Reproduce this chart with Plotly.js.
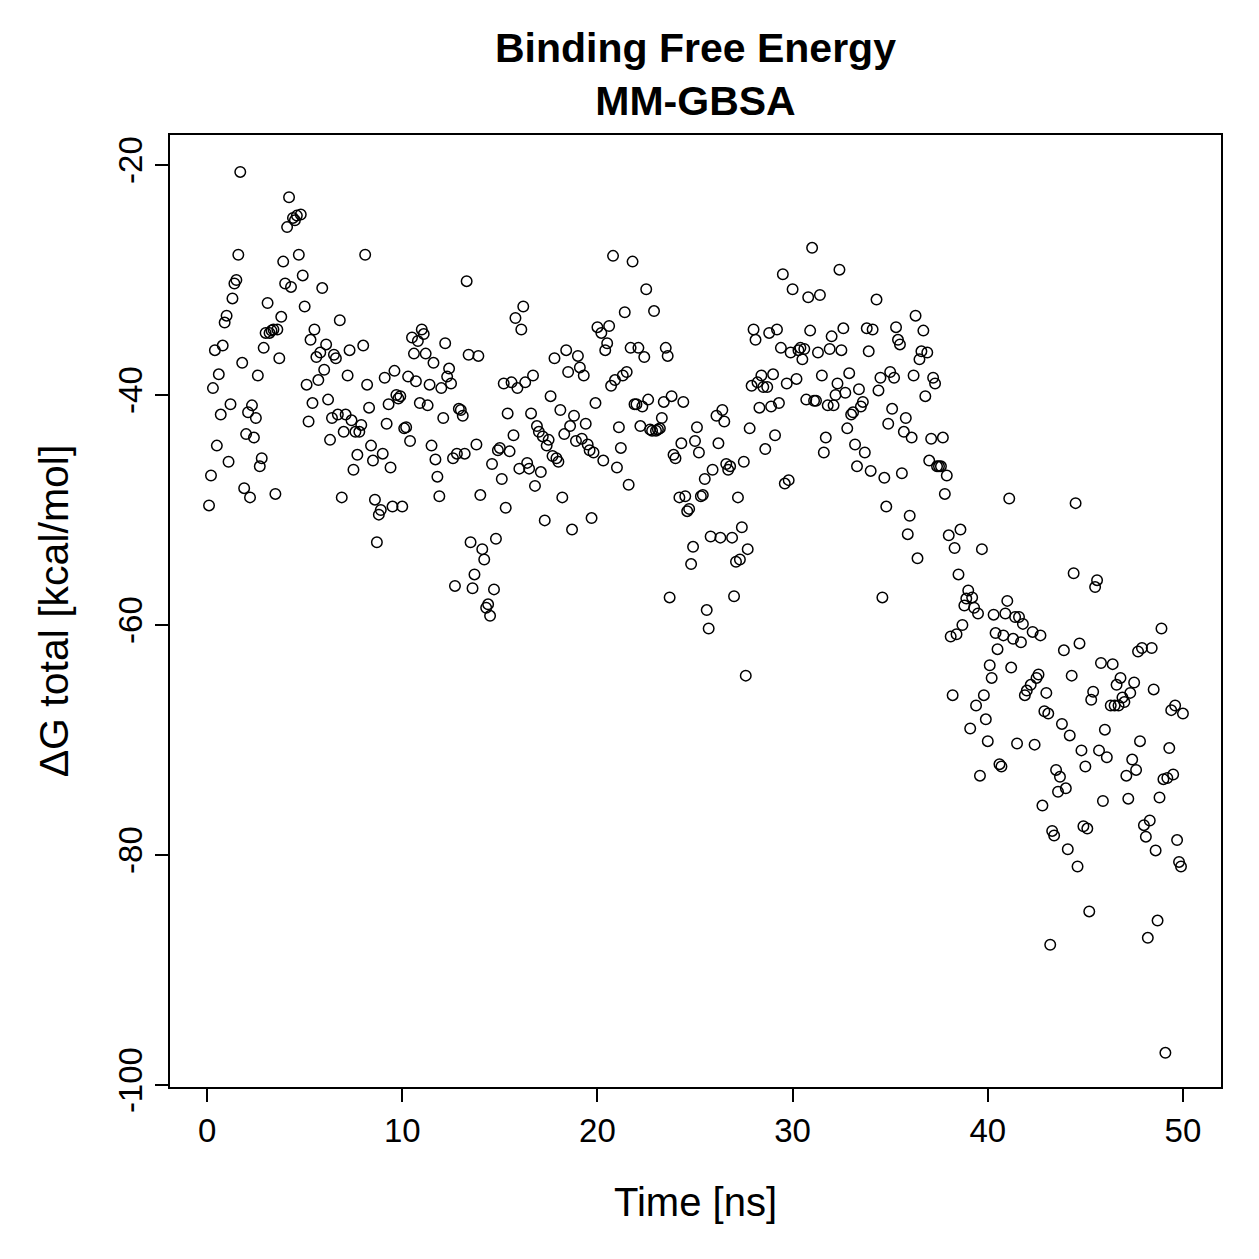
<!DOCTYPE html>
<html>
<head>
<meta charset="utf-8">
<script src="https://cdn.plot.ly/plotly-3.0.1.min.js"></script>
<style>
  html, body { margin: 0; padding: 0; background: #ffffff; }
  #chart { width: 1259px; height: 1259px; }
</style>
</head>
<body>
<div id="chart"></div>
<script>
// MM-GBSA binding free energy per frame along the trajectory
var timeNs = [
  0.1,0.2,0.3,0.4,0.5,0.6,0.7,0.8,0.9,1.0,1.1,1.2,1.3,1.4,1.5,1.6,1.7,1.8,1.9,2.0,
  2.1,2.2,2.3,2.4,2.5,2.6,2.7,2.8,2.9,3.0,3.1,3.2,3.3,3.4,3.5,3.6,3.7,3.8,3.9,4.0,
  4.1,4.2,4.3,4.4,4.5,4.6,4.7,4.8,4.9,5.0,5.1,5.2,5.3,5.4,5.5,5.6,5.7,5.8,5.9,6.0,
  6.1,6.2,6.3,6.4,6.5,6.6,6.7,6.8,6.9,7.0,7.1,7.2,7.3,7.4,7.5,7.6,7.7,7.8,7.9,8.0,
  8.1,8.2,8.3,8.4,8.5,8.6,8.7,8.8,8.9,9.0,9.1,9.2,9.3,9.4,9.5,9.6,9.7,9.8,9.9,10.0,
  10.1,10.2,10.3,10.4,10.5,10.6,10.7,10.8,10.9,11.0,11.1,11.2,11.3,11.4,11.5,11.6,11.7,11.8,11.9,12.0,
  12.1,12.2,12.3,12.4,12.5,12.6,12.7,12.8,12.9,13.0,13.1,13.2,13.3,13.4,13.5,13.6,13.7,13.8,13.9,14.0,
  14.1,14.2,14.3,14.4,14.5,14.6,14.7,14.8,14.9,15.0,15.1,15.2,15.3,15.4,15.5,15.6,15.7,15.8,15.9,16.0,
  16.1,16.2,16.3,16.4,16.5,16.6,16.7,16.8,16.9,17.0,17.1,17.2,17.3,17.4,17.5,17.6,17.7,17.8,17.9,18.0,
  18.1,18.2,18.3,18.4,18.5,18.6,18.7,18.8,18.9,19.0,19.1,19.2,19.3,19.4,19.5,19.6,19.7,19.8,19.9,20.0,
  20.2,20.3,20.4,20.5,20.6,20.7,20.8,20.9,21.0,21.1,21.2,21.3,21.4,21.5,21.6,21.7,21.8,21.9,22.0,
  22.1,22.2,22.3,22.4,22.5,22.6,22.7,22.8,22.9,23.0,23.1,23.2,23.3,23.4,23.5,23.6,23.7,23.8,23.9,24.0,
  24.2,24.3,24.4,24.5,24.6,24.7,24.8,24.9,25.0,25.1,25.2,25.3,25.4,25.5,25.6,25.7,25.8,25.9,
  26.1,26.2,26.3,26.4,26.5,26.6,26.7,26.8,26.9,27.0,27.1,27.2,27.3,27.4,27.5,27.6,27.7,27.8,27.9,28.0,
  28.1,28.2,28.3,28.4,28.5,28.6,28.7,28.8,28.9,29.0,29.1,29.2,29.3,29.4,29.5,29.6,29.7,29.8,29.9,30.0,
  30.2,30.3,30.4,30.5,30.6,30.7,30.8,30.9,31.0,31.1,31.2,31.3,31.4,31.5,31.6,31.7,31.8,31.9,32.0,32.1,
  32.2,32.3,32.4,32.5,32.6,32.7,32.8,32.9,33.0,33.1,33.2,33.3,33.4,33.5,33.6,33.7,33.8,33.9,34.0,34.1,
  34.3,34.4,34.5,34.6,34.7,34.8,34.9,35.0,35.1,35.2,35.3,35.4,35.5,35.6,35.7,35.8,35.9,36.0,36.1,36.2,
  36.3,36.4,36.5,36.6,36.7,36.8,36.9,37.0,37.1,37.2,37.3,37.4,37.5,37.6,37.7,37.8,37.9,38.0,
  38.1,38.2,38.3,38.4,38.5,38.6,38.7,38.8,38.9,39.0,39.1,39.2,39.3,39.4,39.5,39.6,39.7,39.8,39.9,40.0,
  40.1,40.2,40.3,40.4,40.5,40.6,40.7,40.8,40.9,41.0,41.1,41.2,41.3,41.4,41.5,41.6,41.7,41.8,41.9,42.0,
  42.2,42.3,42.4,42.5,42.6,42.7,42.8,42.9,43.0,43.1,43.2,43.3,43.4,43.5,43.6,43.7,43.8,43.9,44.0,44.1,
  44.2,44.3,44.4,44.5,44.6,44.7,44.8,44.9,45.0,45.1,45.2,45.3,45.4,45.5,45.6,45.7,45.8,45.9,46.0,46.1,
  46.3,46.4,46.5,46.6,46.7,46.8,46.9,47.0,47.1,47.2,47.3,47.4,47.5,47.6,47.7,47.8,47.9,48.0,48.1,48.2,
  48.3,48.4,48.5,48.6,48.7,48.8,48.9,49.0,49.1,49.2,49.3,49.4,49.5,49.6,49.7,49.8,49.9,50.0
];

var deltaGTotal = [
  -49.6,-47.0,-39.4,-36.1,-44.4,-38.2,-41.7,-35.7,-33.7,-33.1,-45.8,-40.8,-31.6,-30.3,-30.0,-27.8,-20.6,-37.2,-48.1,-43.4,
  -41.5,-48.9,-40.9,-43.7,-42.0,-38.3,-46.2,-45.5,-35.9,-34.6,-32.0,-34.6,-34.4,-34.3,-48.6,-34.3,-36.8,-33.2,-28.4,-30.3,
  -25.4,-22.8,-30.6,-24.6,-24.8,-24.4,-27.8,-24.3,-29.6,-32.3,-39.1,-42.3,-35.2,-40.7,-34.3,-36.7,-38.7,-36.3,-30.7,-37.8,
  -35.6,-40.4,-43.9,-42.0,-36.5,-36.8,-41.7,-33.5,-48.9,-43.2,-41.7,-38.3,-36.1,-42.2,-46.5,-43.2,-45.2,-43.2,-42.6,-35.7,
  -27.8,-39.1,-41.1,-44.4,-45.7,-49.1,-52.8,-50.4,-50.0,-45.1,-38.5,-42.5,-40.8,-46.3,-49.7,-37.9,-40.0,-40.3,-40.1,-49.7,
  -42.9,-42.8,-38.4,-44.0,-35.0,-36.4,-38.8,-35.3,-40.7,-34.3,-34.7,-36.4,-40.9,-39.1,-44.4,-37.2,-45.6,-47.1,-48.8,-39.4,
  -42.0,-35.5,-38.4,-37.7,-39.0,-45.5,-56.6,-45.1,-41.2,-41.3,-41.8,-45.1,-30.1,-36.5,-52.8,-56.8,-55.6,-44.3,-36.6,-48.7,
  -53.4,-54.3,-58.5,-58.2,-59.2,-46.0,-56.9,-52.5,-44.8,-44.6,-47.3,-39.0,-49.8,-41.6,-44.9,-38.9,-43.5,-33.3,-39.4,-46.4,
  -34.3,-32.3,-38.9,-45.9,-46.4,-41.6,-38.3,-47.9,-42.7,-43.2,-46.7,-43.6,-50.9,-44.4,-43.9,-40.1,-45.3,-36.8,-45.5,-45.8,
  -41.3,-48.9,-43.4,-36.1,-38.0,-42.7,-51.7,-41.8,-44.0,-36.6,-37.6,-43.8,-38.3,-42.5,-44.3,-44.8,-50.7,-45.0,-40.7,-34.1,
  -34.6,-45.7,-36.1,-35.5,-34.0,-39.2,-27.9,-38.7,-46.3,-42.8,-44.6,-38.3,-32.8,-38.0,-47.8,-35.9,-28.4,-40.8,-40.8,
  -35.9,-42.7,-41.0,-36.7,-30.8,-40.4,-43.0,-43.1,-32.7,-43.1,-43.0,-42.9,-42.0,-40.6,-35.9,-36.6,-57.6,-40.1,-45.2,-45.5,
  -48.9,-44.2,-40.6,-48.8,-50.1,-49.9,-54.7,-53.2,-44.0,-42.8,-45.0,-48.8,-48.7,-47.3,-58.7,-60.3,-52.3,-46.5,
  -41.8,-44.2,-52.4,-41.3,-42.3,-46.0,-46.5,-46.2,-52.4,-57.5,-54.5,-48.9,-54.3,-51.5,-45.8,-64.4,-53.4,-42.9,-39.2,-34.3,
  -35.2,-38.9,-41.1,-38.3,-39.3,-44.7,-39.3,-34.6,-41.0,-38.2,-43.5,-34.3,-40.7,-35.9,-29.5,-47.7,-39.0,-47.4,-36.3,-30.8,
  -38.6,-36.1,-35.9,-36.9,-36.0,-40.4,-31.5,-34.4,-27.2,-40.5,-40.5,-36.3,-31.3,-38.3,-45.0,-43.7,-40.9,-36.0,-34.9,-40.9,
  -40.0,-39.0,-29.1,-36.1,-34.2,-39.8,-42.9,-38.1,-41.7,-41.5,-44.3,-46.2,-39.5,-41.0,-40.6,-45.0,-34.2,-36.2,-46.6,-34.3,
  -31.7,-39.6,-38.5,-57.6,-47.2,-49.7,-42.5,-38.0,-41.2,-38.5,-34.1,-35.2,-35.6,-46.8,-43.2,-42.0,-52.1,-50.5,-43.7,-38.3,
  -33.1,-54.2,-36.9,-36.2,-34.4,-40.1,-36.3,-45.7,-43.8,-38.5,-39.0,-46.2,-46.2,-46.2,-43.7,-48.6,-47.0,-52.2,
  -61.0,-66.1,-53.3,-60.8,-55.6,-51.7,-60.0,-58.3,-57.7,-57.0,-69.0,-57.6,-58.5,-67.0,-59.0,-73.1,-53.4,-66.1,-68.2,-70.1,
  -63.5,-64.6,-59.1,-60.7,-62.1,-72.1,-72.3,-60.9,-59.0,-57.9,-49.0,-63.7,-61.2,-59.3,-70.3,-59.3,-61.5,-59.9,-66.1,-65.7,
  -65.2,-60.6,-70.4,-64.6,-64.3,-60.9,-75.7,-67.5,-65.9,-67.7,-87.8,-77.9,-78.3,-72.6,-74.5,-73.2,-68.6,-62.2,-74.2,-79.5,
  -69.6,-64.4,-55.5,-49.4,-81.0,-61.6,-70.9,-77.5,-72.3,-77.7,-84.9,-66.5,-65.8,-56.7,-56.1,-70.9,-63.3,-75.3,-69.1,-71.5,
  -67.0,-63.4,-67.0,-65.2,-67.0,-64.6,-66.3,-66.7,-73.1,-75.1,-65.9,-71.7,-65.0,-72.6,-62.3,-70.1,-62.0,-77.4,-78.4,-87.2,
  -77.0,-62.0,-65.6,-79.6,-85.7,-75.0,-60.3,-73.4,-97.2,-73.3,-70.7,-67.4,-73.0,-67.0,-78.7,-80.6,-81.0,-67.7
];

var xTicks = [0, 10, 20, 30, 40, 50];
var yTicks = [-20, -40, -60, -80, -100];

var trace = {
  type: 'scatter',
  mode: 'markers',
  x: timeNs,
  y: deltaGTotal,
  marker: {
    symbol: 'circle-open',
    size: 10.5,
    color: '#000000',
    line: { width: 1.5, color: '#000000' }
  },
  hoverinfo: 'x+y'
};

var fontFamily = '"Liberation Sans", Arial, Helvetica, sans-serif';

var layout = {
  width: 1259,
  height: 1259,
  margin: { l: 170, r: 38, t: 135, b: 172, pad: 0 },
  paper_bgcolor: '#ffffff',
  plot_bgcolor: '#ffffff',
  showlegend: false,
  font: { family: fontFamily, color: '#000000' },
  title: {
    text: '<b>Binding Free Energy</b><br><b>MM-GBSA</b>',
    font: { family: fontFamily, size: 41, color: '#000000' },
    x: 0.5, xref: 'paper', xanchor: 'center',
    y: 0.951, yref: 'container', yanchor: 'top'
  },
  xaxis: {
    range: [-1.9, 51.95],
    tickmode: 'array',
    tickvals: xTicks,
    ticktext: xTicks.map(String),
    ticks: 'outside', ticklen: 13, tickwidth: 2, tickcolor: '#000000',
    showline: true, mirror: true, linewidth: 2, linecolor: '#000000',
    showgrid: false, zeroline: false,
    tickfont: { family: fontFamily, size: 33, color: '#000000' },
    title: { text: 'Time [ns]', font: { family: fontFamily, size: 40, color: '#000000' }, standoff: 40 }
  },
  yaxis: {
    range: [-100.17, -17.39],
    tickmode: 'array',
    tickvals: yTicks,
    ticktext: yTicks.map(String),
    tickangle: -90,
    ticks: 'outside', ticklen: 13, tickwidth: 2, tickcolor: '#000000',
    showline: true, mirror: true, linewidth: 2, linecolor: '#000000',
    showgrid: false, zeroline: false,
    tickfont: { family: fontFamily, size: 33, color: '#000000' },
    title: { text: 'ΔG total [kcal/mol]', font: { family: fontFamily, size: 41, color: '#000000' }, standoff: 30 }
  }
};

Plotly.newPlot('chart', [trace], layout, { staticPlot: true, displayModeBar: false });
</script>
</body>
</html>
